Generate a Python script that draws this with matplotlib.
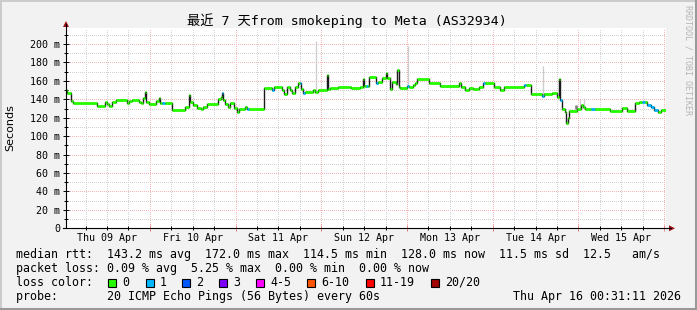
import matplotlib
matplotlib.use('Agg')
import matplotlib.pyplot as plt
from matplotlib.patches import Rectangle, Polygon
from matplotlib.lines import Line2D

# ---------------- data ----------------
seg_hours = [0.0, 0.22, 1.3, 2.05, 8.54, 11.03, 11.46, 12.11, 12.86, 13.95, 17.19, 17.73, 18.59,
             20.43, 20.97, 21.51, 22.16, 22.49, 23.14, 25.3, 26.05, 26.38, 26.92, 27.68, 29.62,
             33.41, 34.38, 34.81, 35.57, 36.65, 37.73, 38.27, 39.35, 42.59, 43.35, 43.68, 43.89,
             44.54, 45.3, 45.84, 46.92, 47.78, 48.54, 50.16, 50.7, 51.24, 55.57, 57.73, 58.27,
             60.43, 60.97, 61.84, 62.6, 63.35, 64.22, 64.97, 65.41, 65.73, 66.38, 66.92, 69.08,
             69.62, 70.49, 72.97, 73.3, 73.95, 76.11, 79.35, 79.89, 82.38, 83.03, 83.46, 84.11,
             84.54, 84.76, 86.92, 87.46, 88.54, 89.51, 89.95, 90.7, 91.24, 92.33, 92.76, 93.19,
             93.62, 95.46, 96.11, 97.19, 97.73, 98.27, 101.51, 104.76, 110.16, 110.7, 111.78,
             112.87, 113.95, 115.57, 116.65, 117.41, 119.89, 121.52, 122.6, 128.22, 128.87,
             130.16, 133.19, 133.84, 136.11, 137.52, 138.16, 138.38, 138.81, 139.68, 140.11,
             140.54, 140.97, 143.14, 144.22, 144.76, 145.3, 146.92, 148.0, 152.32, 155.57,
             157.19, 159.35, 160.43, 161.3, 162.05, 162.59, 163.68, 164.76, 165.84, 166.7, 168.0]
median_ms = [150, 147, 138, 136.4, 133, 137.5, 134.6, 133, 137, 139.3, 136, 138, 139,
             137.5, 136, 141, 147.6, 137.5, 135.3, 138, 141.8, 136.4, 136.4, 135.7, 128.4,
             132, 144.7, 137.5, 133.9, 131, 129.2, 132, 135, 140, 143, 146.6, 139.3,
             134.6, 132, 135.7, 130.3, 126.6, 129.2, 132, 129.2, 129.2, 152, 150, 153,
             150, 145.8, 153.8, 150.2, 147.3, 153.8, 158.2, 158.2, 151, 146.6, 148.4, 150.2,
             148.4, 150.2, 166.5, 151, 152.2, 153.8, 153, 152, 153.8, 161.8, 154.6, 154.6,
             154.6, 164.7, 157.4, 159.3, 162.9, 168.3, 162.9, 151, 159.3, 156.7, 172, 153.8,
             152.7, 154.6, 153, 155.5, 157.4, 161.8, 157.4, 154.6, 157.4, 153, 150.2,
             152, 151, 153.8, 158.2, 158.2, 153.8, 150.2, 153.8, 155.5, 155.5,
             145.4, 144, 145.4, 147.3, 143, 161.8, 139.3, 129.2, 126.6, 114.5,
             119.3, 127.7, 129.2, 133.9, 132, 129.2, 129.2, 129.2, 127.7, 130.3,
             127.7, 135.7, 137.5, 137.5, 137.5, 134, 132, 128.4, 126.6, 128.0]
loss_pings = [0, 0, 0, 0, 0, 0, 0, 0, 0, 0, 0, 0, 0,
              0, 0, 0, 0, 0, 0, 0, 0, 0, 1, 0, 0,
              0, 0, 0, 0, 0, 0, 0, 0, 0, 0, 1, 0,
              0, 0, 0, 0, 0, 0, 0, 1, 0, 0, 1, 0,
              0, 0, 0, 0, 0, 0, 0, 1, 0, 1, 0, 0,
              0, 0, 0, 0, 0, 0, 0, 0, 0, 0, 0, 1,
              0, 0, 1, 0, 0, 0, 0, 0, 0, 0, 0, 0,
              0, 1, 0, 0, 0, 0, 0, 0, 0, 0, 0,
              0, 0, 0, 1, 0, 0, 0, 0, 1, 0,
              0, 1, 0, 0, 0, 0, 1, 0, 0, 0,
              0, 0, 0, 0, 0, 0, 1, 0, 0, 0,
              0, 0, 0, 1, 0, 1, 1, 1, 0, 0]

smoke_hours = [70.0, 95.8, 133.5, 143.9, 145.0]
smoke_low = [150, 155, 145, 129, 130]
smoke_high = [203, 198, 176, 140, 141]
dark_smoke_hours = [142.8]
dark_smoke_low = [129]
dark_smoke_high = [134]

day_labels = ['Thu 09 Apr', 'Fri 10 Apr', 'Sat 11 Apr', 'Sun 12 Apr',
              'Mon 13 Apr', 'Tue 14 Apr', 'Wed 15 Apr']
start_offset_h = 31 / 60.0   # graph starts at 00:31 on Thu 09 Apr
span_h = 168
y_max = 217.7

loss_labels = ['0', '1', '2', '3', '4-5', '6-10', '11-19', '20/20']
loss_colors = ['#26ff00', '#00b8ff', '#0059ff', '#7e00ff', '#ff00ff', '#ff5500', '#ff0000', '#a10000']

title = '最近 7 天from smokeping to Meta (AS32934)'
legend_rows = [
    'median rtt:  143.2 ms avg  172.0 ms max  114.5 ms min  128.0 ms now  11.5 ms sd  12.5   am/s',
    'packet loss: 0.09 % avg  5.25 % max  0.00 % min  0.00 % now',
    'loss color:',
    'probe:       20 ICMP Echo Pings (56 Bytes) every 60s',
]
timestamp = 'Thu Apr 16 00:31:11 2026'

# ---------------- figure ----------------
W, H = 697, 310
MONO = ['DejaVu Sans Mono', 'Noto Sans CJK SC']
fig = plt.figure(figsize=(W / 100, H / 100), dpi=100, facecolor='#f2f2f2')

def fx(x):
    return x / W

def fy(y):
    return 1 - y / H

L, R, T, B = 66, 666, 27.7, 228.3
ax = fig.add_axes([fx(L), fy(B), (R - L) / W, (B - T) / H])
ax.set_facecolor('white')
ax.set_xlim(0, span_h)
ax.set_ylim(0, y_max)
for s in ax.spines.values():
    s.set_visible(False)

# grid
mgrid = '#f4b6b6'
grid = '#d2d2d2'
dots = (0, (1, 2))
for v in range(10, 220, 10):
    ax.axhline(v, color=mgrid if v % 20 == 0 else grid, lw=0.72, ls=dots, zorder=1,
               antialiased=False)
h = 6 - start_offset_h
while h < span_h:
    is_day = abs(((h + start_offset_h) % 24)) < 1e-6
    ax.axvline(h, color=mgrid if is_day else grid, lw=0.72, ls=dots, zorder=1,
               antialiased=False)
    h += 6

# ticks
ax.set_yticks(range(0, 220, 20))
ax.set_yticks(range(10, 220, 20), minor=True)
ax.set_yticklabels(['0'] + ['%d m' % v for v in range(20, 220, 20)],
                   fontfamily='DejaVu Sans Mono', fontsize=7.2)
ax.tick_params(axis='y', which='major', direction='inout', length=4, width=0.7, pad=2)
ax.tick_params(axis='y', which='minor', direction='inout', length=3, width=0.7)
day_bounds = [24 * k - start_offset_h for k in range(1, 8)]
ax.set_xticks(day_bounds)
ax.set_xticks([h for h in [6 * k - start_offset_h for k in range(1, 29)] if h not in day_bounds and h < span_h], minor=True)
ax.set_xticklabels([])
ax.tick_params(axis='x', which='major', direction='inout', length=4, width=0.7, color='#e08080')
ax.tick_params(axis='x', which='minor', direction='inout', length=3, width=0.7)
for i, lab in enumerate(day_labels):
    ax.text(12 - start_offset_h + 24 * i, -10.9, lab, ha='center', va='center',
            fontfamily='DejaVu Sans Mono', fontsize=7.2, clip_on=False)

# smoke
ax.vlines(smoke_hours, smoke_low, smoke_high, colors='#cccccc', lw=0.9, zorder=2)
ax.vlines(dark_smoke_hours, dark_smoke_low, dark_smoke_high, colors='#777777', lw=1.8, zorder=2)

# median
ax.step(seg_hours, median_ms + [median_ms[-1]], where='post', color='#1a1a1a', lw=1.0, zorder=3)
ax.hlines(median_ms, seg_hours[:-1], seg_hours[1:],
          colors=[loss_colors[min(l, 7)] for l in loss_pings], lw=2.0, zorder=4,
          capstyle='butt')

# axes lines and arrows
fig.add_artist(Line2D([fx(L), fx(L)], [fy(B), fy(24)], color='black', lw=0.8))
fig.add_artist(Line2D([fx(L - 3), fx(671)], [fy(B), fy(B)], color='black', lw=0.8))
arrow_c = '#9b1414'
fig.add_artist(Polygon([[fx(63), fy(27)], [fx(69), fy(27)], [fx(66), fy(21)]], closed=True,
                       color=arrow_c, lw=0))
fig.add_artist(Polygon([[fx(669), fy(225.3)], [fx(669), fy(231.3)], [fx(675), fy(B)]],
                       closed=True, color=arrow_c, lw=0))

# title & labels
fig.text(fx(347), fy(21), title, ha='center', va='center', fontsize=9.5, family=MONO)
fig.text(fx(10), fy(128), 'Seconds', rotation=90, ha='center', va='center',
         fontsize=8, family='DejaVu Sans')
fig.text(fx(688), fy(5), 'RRDTOOL / TOBI OETIKER', rotation=270, ha='center', va='top',
         fontsize=6, family='DejaVu Sans Mono', color='#b4b4b4')

# legend
row_y = [254.3, 268.3, 282.3, 296.7]
for txt, yy in zip(legend_rows, row_y):
    fig.text(fx(16), fy(yy), txt, ha='left', va='center', fontsize=8.4,
             family='DejaVu Sans Mono')
fig.text(fx(681), fy(row_y[3]), timestamp, ha='right', va='center', fontsize=8.4,
         family='DejaVu Sans Mono')
box_x = [108, 146, 182, 219, 256, 307, 366, 431]
for bx, lab, col in zip(box_x, loss_labels, loss_colors):
    fig.add_artist(Rectangle((fx(bx), fy(286.5)), 8 / W, 8 / H, facecolor=col,
                             edgecolor='black', lw=0.8))
    fig.text(fx(bx + 14), fy(row_y[2]), lab, ha='left', va='center', fontsize=8.4,
             family='DejaVu Sans Mono')

# frame (3D shade)
fig.add_artist(Line2D([0, 1], [fy(0.5), fy(0.5)], color='#cbcbcb', lw=1.4))
fig.add_artist(Line2D([fx(0.5), fx(0.5)], [0, 1], color='#cbcbcb', lw=1.4))
fig.add_artist(Line2D([0, 1], [fy(H - 1), fy(H - 1)], color='#999999', lw=2.2))
fig.add_artist(Line2D([fx(W - 1), fx(W - 1)], [0, 1], color='#999999', lw=2.2))

fig.savefig('out.png', dpi=100, facecolor=fig.get_facecolor())
